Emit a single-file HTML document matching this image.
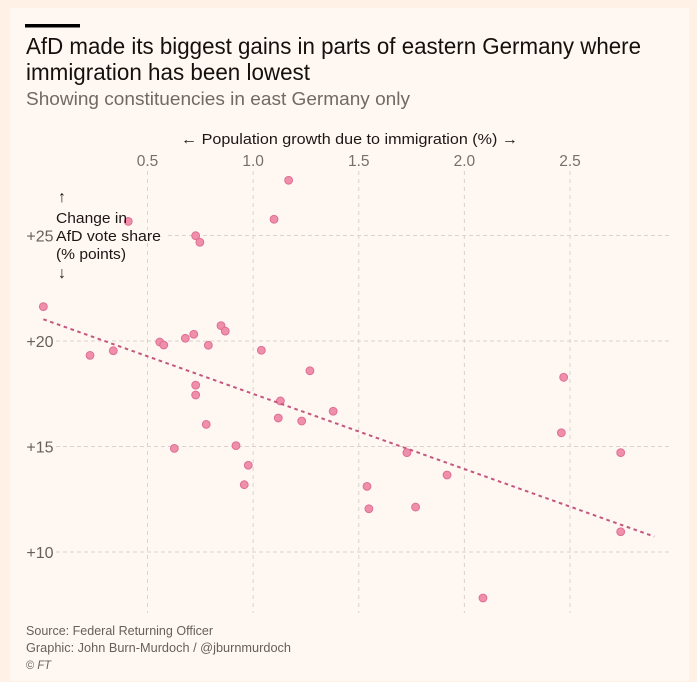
<!DOCTYPE html>
<html lang="en">
<head>
<meta charset="utf-8">
<title>AfD gains vs immigration</title>
<style>
  html, body { margin: 0; padding: 0; background: #fff1e6; }
  svg { display: block; font-family: "Liberation Sans", sans-serif; }
</style>
</head>
<body>
<svg id="chart" xmlns="http://www.w3.org/2000/svg" width="697" height="682" viewBox="0 0 697 682">
  <rect x="0" y="0" width="697" height="682" fill="#fff1e6"/>
  <rect x="10" y="8" width="679" height="673" fill="#fff7f2"/>
  <rect x="25" y="24" width="55" height="3.5" fill="#000"/>
  <text x="26" y="54" font-size="23" fill="#14100e" textLength="615" lengthAdjust="spacingAndGlyphs">AfD made its biggest gains in parts of eastern Germany where</text>
  <text x="26" y="80" font-size="23" fill="#14100e" textLength="284" lengthAdjust="spacingAndGlyphs">immigration has been lowest</text>
  <text x="26" y="105" font-size="18" fill="#6f6a66" textLength="384" lengthAdjust="spacingAndGlyphs">Showing constituencies in east Germany only</text>
  <text x="181" y="144" font-size="15" fill="#1c1715" textLength="337" lengthAdjust="spacingAndGlyphs">← Population growth due to immigration (%) →</text>
  <g id="grid"></g>
  <rect x="54" y="230" width="112" height="11" fill="#fff7f2"/>
  <g id="ticks"></g>
  <g id="points"></g>
  <line id="trend" stroke="#c4577f" stroke-width="2" stroke-dasharray="3.6 3.6"/>
  <g font-size="15" fill="#1c1715">
    <text x="62" y="202" text-anchor="middle" font-size="16">↑</text>
    <text x="56" y="223" textLength="71" lengthAdjust="spacingAndGlyphs">Change in</text>
    <text x="56" y="241" textLength="105" lengthAdjust="spacingAndGlyphs">AfD vote share</text>
    <text x="56" y="259" textLength="70" lengthAdjust="spacingAndGlyphs">(% points)</text>
    <text x="62" y="278" text-anchor="middle" font-size="16">↓</text>
  </g>
  <text x="26" y="635" font-size="12.5" fill="#66605c" textLength="187" lengthAdjust="spacingAndGlyphs">Source: Federal Returning Officer</text>
  <text x="26" y="652" font-size="12.5" fill="#66605c" textLength="265" lengthAdjust="spacingAndGlyphs">Graphic: John Burn-Murdoch / @jburnmurdoch</text>
  <text x="26" y="669" font-size="12" fill="#66605c" textLength="25" lengthAdjust="spacingAndGlyphs">© <tspan font-style="italic">FT</tspan></text>
</svg>
<script>
const xTicks = [0.5, 1.0, 1.5, 2.0, 2.5];
const xTickLabels = ["0.5", "1.0", "1.5", "2.0", "2.5"];
const yTicks = [25, 20, 15, 10];
const yTickLabels = ["+25", "+20", "+15", "+10"];

const immigrationGrowth = [1.168, 1.099, 0.409, 0.728, 0.748, 0.007, 0.228, 0.338, 0.558, 0.577,
  0.679, 0.719, 0.848, 0.868, 0.788, 1.039, 1.269, 0.728, 0.728, 1.129,
  1.379, 1.119, 1.230, 0.778, 0.919, 0.627, 0.977, 0.958, 2.470, 2.459,
  2.740, 1.728, 1.918, 1.539, 1.548, 1.769, 2.740, 2.088];
const afdChange = [27.62, 25.77, 25.67, 24.99, 24.68, 21.63, 19.32, 19.54, 19.95, 19.81,
  20.13, 20.32, 20.73, 20.47, 19.80, 19.56, 18.59, 17.91, 17.44, 17.16,
  16.67, 16.35, 16.21, 16.05, 15.04, 14.91, 14.11, 13.19, 18.28, 15.65,
  14.71, 14.71, 13.65, 13.11, 12.05, 12.13, 10.96, 7.82];
const trendX = [0.007, 2.899];
const trendY = [21.03, 10.73];

const NS = "http://www.w3.org/2000/svg";
function xScale(v) { return 147.5 + (v - 0.5) * 211.25; }
function yScale(v) { return 552 - (v - 10) * 21.1; }

const gridGroup = document.getElementById("grid");
const tickGroup = document.getElementById("ticks");
const pointGroup = document.getElementById("points");

xTicks.forEach(function (t, i) {
  const line = document.createElementNS(NS, "line");
  
  
  line.setAttribute("x1", xScale(t));
  line.setAttribute("x2", xScale(t));
  line.setAttribute("y1", 171);
  line.setAttribute("y2", 613);
  line.setAttribute("stroke", "#d9d2cd");
  line.setAttribute("stroke-width", "1");
  line.setAttribute("stroke-dasharray", "4 4");
  gridGroup.appendChild(line);

  const label = document.createElementNS(NS, "text");
  
  
  label.setAttribute("x", xScale(t));
  label.setAttribute("y", 166);
  label.setAttribute("text-anchor", "middle");
  label.setAttribute("font-size", "15.5");
  label.setAttribute("fill", "#75706c");
  label.textContent = xTickLabels[i];
  tickGroup.appendChild(label);
});

yTicks.forEach(function (t, i) {
  const line = document.createElementNS(NS, "line");
  
  
  line.setAttribute("x1", 56);
  line.setAttribute("x2", 669);
  line.setAttribute("y1", yScale(t));
  line.setAttribute("y2", yScale(t));
  line.setAttribute("stroke", "#d9d2cd");
  line.setAttribute("stroke-width", "1");
  line.setAttribute("stroke-dasharray", "4 3");
  gridGroup.appendChild(line);

  const label = document.createElementNS(NS, "text");
  
  
  label.setAttribute("x", 53.5);
  label.setAttribute("y", yScale(t) + 6);
  label.setAttribute("text-anchor", "end");
  label.setAttribute("font-size", "16");
  label.setAttribute("fill", "#66605c");
  label.textContent = yTickLabels[i];
  tickGroup.appendChild(label);
});

immigrationGrowth.forEach(function (v, i) {
  const dot = document.createElementNS(NS, "circle");
  
  
  dot.setAttribute("cx", xScale(v));
  dot.setAttribute("cy", yScale(afdChange[i]));
  dot.setAttribute("r", "3.9");
  dot.setAttribute("fill", "#f08fab");
  dot.setAttribute("stroke", "#dd6f94");
  dot.setAttribute("stroke-width", "1");
  pointGroup.appendChild(dot);
});

const trend = document.getElementById("trend");
trend.setAttribute("x1", xScale(trendX[0]));
trend.setAttribute("y1", yScale(trendY[0]));
trend.setAttribute("x2", xScale(trendX[1]));
trend.setAttribute("y2", yScale(trendY[1]));
</script>
</body>
</html>
